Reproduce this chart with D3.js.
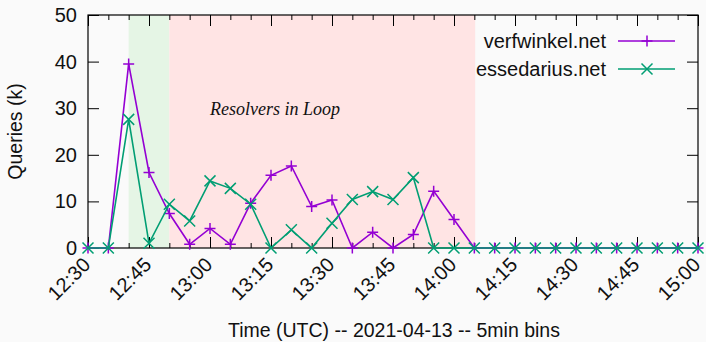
<!DOCTYPE html>
<html>
<head>
  <meta charset="UTF-8">
  <style>
    body { margin: 0; background: #fafafa; }
    svg { display: block; }
    text { font-family: "Liberation Sans", Arial, sans-serif; fill: #111; }
  </style>
</head>
<body>
<script src="https://d3js.org/d3.v7.min.js"></script>
<div id="chart"></div>
<script>

// 5 minute bins starting at 12:30 (minutes after 12:30)
var binMinutes = d3.range(0, 155, 5);

var verfwinkel = [0, 0, 39.5, 16.2, 7.4, 0.8, 4.2, 0.8, 9.6, 15.6, 17.6,
  8.9, 10.3, 0, 3.4, 0, 2.9, 12.2, 6.1, 0,
  0, 0, 0, 0, 0, 0, 0, 0, 0, 0, 0];

var essedarius = [0, 0, 27.6, 1.0, 9.4, 5.8, 14.4, 12.8, 9.4, 0, 3.9,
  0, 5.3, 10.4, 12.1, 10.4, 15.1, 0, 0, 0,
  0, 0, 0, 0, 0, 0, 0, 0, 0, 0, 0];

var tickLabels = ["12:30", "12:45", "13:00", "13:15", "13:30", "13:45",
  "14:00", "14:15", "14:30", "14:45", "15:00"];
var yTicks = [0, 10, 20, 30, 40, 50];

// shaded periods, minutes after 12:30
var greenBand = [10, 20];
var pinkBand = [20, 95.2];

var width = 706, height = 342;
var margin = {top: 15, right: 8, bottom: 94, left: 88};

var svg = d3.select("#chart").append("svg")
  .attr("width", width)
  .attr("height", height);

var x = d3.scaleLinear().domain([0, 150]).range([margin.left, width - margin.right]);
var y = d3.scaleLinear().domain([0, 50]).range([height - margin.bottom, margin.top]);

// background bands
svg.append("rect")
  .attr("x", x(greenBand[0])).attr("y", y(50))
  .attr("width", x(greenBand[1]) - x(greenBand[0]))
  .attr("height", y(0) - y(50))
  .attr("fill", "#e5f5e5");
svg.append("rect")
  .attr("x", x(pinkBand[0])).attr("y", y(50))
  .attr("width", x(pinkBand[1]) - x(pinkBand[0]))
  .attr("height", y(0) - y(50))
  .attr("fill", "#ffe4e4");

svg.append("text")
  .attr("x", x(46))
  .attr("y", 115)
  .attr("text-anchor", "middle")
  .style("font-family", "'Liberation Serif', 'DejaVu Serif', serif")
  .style("font-style", "italic")
  .style("font-size", "18px")
  .text("Resolvers in Loop");

// axes - gnuplot style: ticks inward, mirrored
var majorX = d3.range(0, 151, 15);
var minorX = binMinutes.filter(function(m) { return m % 15 != 0; });

var xBottom = svg.append("g").attr("transform", "translate(0," + y(0) + ")");
xBottom.call(d3.axisBottom(x).tickValues(majorX).tickSize(-11).tickFormat(function(d, i) { return tickLabels[i]; }));
xBottom.selectAll(".tick text")
  .attr("text-anchor", "end")
  .attr("y", 0)
  .attr("dy", 0)
  .attr("transform", "translate(3,18) rotate(-45)")
  .style("font-size", "20px");

var xTop = svg.append("g").attr("transform", "translate(0," + y(50) + ")");
xTop.call(d3.axisTop(x).tickValues(majorX).tickSize(-11).tickFormat(""));

svg.append("g").attr("transform", "translate(0," + y(0) + ")")
  .call(d3.axisBottom(x).tickValues(minorX).tickSize(-5).tickFormat(""));
svg.append("g").attr("transform", "translate(0," + y(50) + ")")
  .call(d3.axisTop(x).tickValues(minorX).tickSize(-5).tickFormat(""));

var yLeft = svg.append("g").attr("transform", "translate(" + x(0) + ",0)");
yLeft.call(d3.axisLeft(y).tickValues(yTicks).tickSize(-11).tickPadding(11));
yLeft.selectAll(".tick text").style("font-size", "20px");

svg.append("g").attr("transform", "translate(" + x(150) + ",0)")
  .call(d3.axisRight(y).tickValues(yTicks).tickSize(-11).tickFormat(""));

svg.selectAll(".tick line").attr("stroke", "#000");
svg.selectAll(".domain").remove();

// frame
svg.append("rect")
  .attr("x", x(0)).attr("y", y(50))
  .attr("width", x(150) - x(0)).attr("height", y(0) - y(50))
  .attr("fill", "none").attr("stroke", "#000").attr("stroke-width", 1.2);

svg.append("text")
  .attr("transform", "translate(22," + ((y(0) + y(50)) / 2) + ") rotate(-90)")
  .attr("text-anchor", "middle")
  .style("font-size", "19.5px")
  .text("Queries (k)");

svg.append("text")
  .attr("x", 394)
  .attr("y", 337)
  .attr("text-anchor", "middle")
  .style("font-size", "19.5px")
  .text("Time (UTC) -- 2021-04-13 -- 5min bins");

// series
var series = [
  {name: "verfwinkel.net", values: verfwinkel, color: "#9400d3", marker: "plus"},
  {name: "essedarius.net", values: essedarius, color: "#009e73", marker: "cross"}
];

var line = d3.line()
  .x(function(d, i) { return x(binMinutes[i]); })
  .y(function(d) { return y(d); });

function marker(g, cx, cy, kind, color) {
  var s = 5.5;
  var p = kind == "plus"
    ? "M" + (cx - s) + "," + cy + "H" + (cx + s) + "M" + cx + "," + (cy - s) + "V" + (cy + s)
    : "M" + (cx - s) + "," + (cy - s) + "L" + (cx + s) + "," + (cy + s) + "M" + (cx - s) + "," + (cy + s) + "L" + (cx + s) + "," + (cy - s);
  g.append("path").attr("d", p).attr("stroke", color).attr("stroke-width", 1.5).attr("fill", "none");
}

series.forEach(function(s) {
  svg.append("path")
    .datum(s.values)
    .attr("d", line)
    .attr("fill", "none")
    .attr("stroke", s.color)
    .attr("stroke-width", 1.6);
  var g = svg.append("g");
  s.values.forEach(function(v, i) {
    marker(g, x(binMinutes[i]), y(v), s.marker, s.color);
  });
});

// legend
series.forEach(function(s, i) {
  var ly = 41 + i * 28;
  svg.append("text")
    .attr("x", 606).attr("y", ly).attr("dy", "0.35em")
    .attr("text-anchor", "end")
    .style("font-size", "20px")
    .text(s.name);
  svg.append("line")
    .attr("x1", 618).attr("x2", 675).attr("y1", ly).attr("y2", ly)
    .attr("stroke", s.color).attr("stroke-width", 1.6);
  marker(svg, 647, ly, s.marker, s.color);
});

</script>
</body>
</html>
